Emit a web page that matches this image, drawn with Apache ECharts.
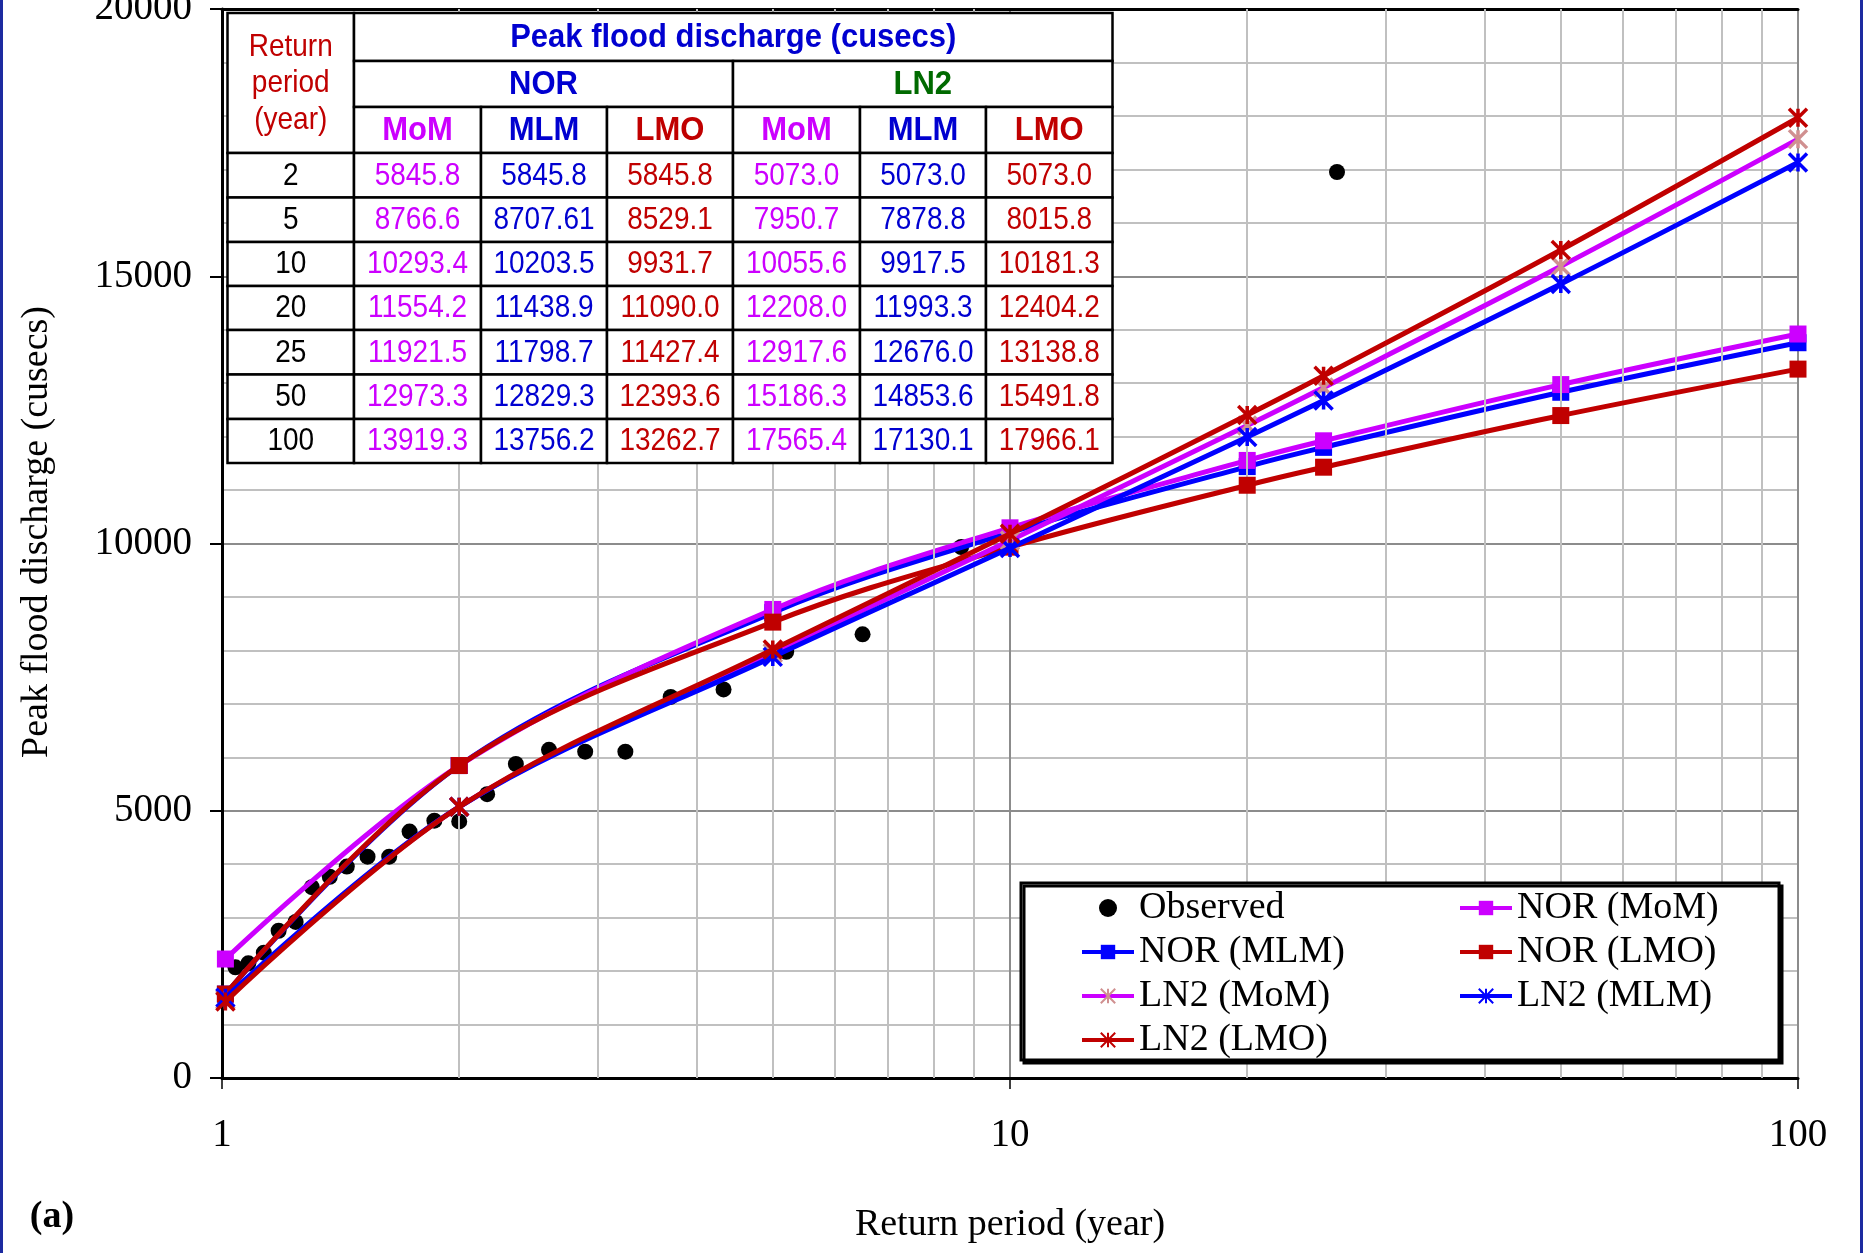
<!DOCTYPE html>
<html>
<head>
<meta charset="utf-8">
<title>Peak flood discharge vs return period</title>
<script src="https://cdn.jsdelivr.net/npm/echarts@6/dist/echarts.min.js"></script>
<style>
  html, body { margin: 0; padding: 0; background: #fff; }
  #chart { width: 1865px; height: 1253px; }
</style>
</head>
<body>
<div id="chart"></div>
<script>
// Return periods (years) of the fitted curves; the first entry is the low-tail point
const curveT = [1.01, 2, 5, 10, 20, 25, 50, 100];

// Fitted peak discharges (cusecs) for each distribution / estimation method
const norMoM = [2226, 5845.8, 8766.6, 10293.4, 11554.2, 11921.5, 12973.3, 13919.3];
const norMLM = [1570, 5845.8, 8707.61, 10203.5, 11438.9, 11798.7, 12829.3, 13756.2];
const norLMO = [1570, 5845.8, 8529.1, 9931.7, 11090.0, 11427.4, 12393.6, 13262.7];
const ln2MoM = [1464, 5073.0, 7950.7, 10055.6, 12208.0, 12917.6, 15186.3, 17565.4];
const ln2MLM = [1500, 5073.0, 7878.8, 9917.5, 11993.3, 12676.0, 14853.6, 17130.1];
const ln2LMO = [1430, 5073.0, 8015.8, 10181.3, 12404.2, 13138.8, 15491.8, 17966.1];

// Observed annual peaks at their plotting positions
const obsT = [26.0, 8.67, 6.5, 5.2, 4.33, 3.71, 3.25, 2.89, 2.6, 2.36, 2.17, 2.0,
              1.86, 1.73, 1.63, 1.53, 1.44, 1.37, 1.3, 1.24, 1.18, 1.13, 1.08, 1.04];
const obsQ = [16950, 9935, 8300, 7975, 7270, 7130, 6105, 6105, 6140, 5875, 5310, 4800,
              4815, 4610, 4140, 4140, 3955, 3765, 3570, 2920, 2755, 2345, 2145, 2070];

// Intermediate log-grid positions on the return-period axis
const minorGridT = [2, 3, 4, 5, 6, 7, 8, 9, 20, 30, 40, 50, 60, 70, 80, 90];

// Table headings
const distNames = ['NOR', 'LN2'];
const methodNames = ['MoM', 'MLM', 'LMO'];

const MAG = '#CC00FF', BLUE = '#0000FF', RED = '#C00000';
const TXT_BLUE = '#0000D0', GREEN = '#006A00';
const SERIF = '"Liberation Serif", "Times New Roman", serif';
const SANS = '"Liberation Sans", Arial, sans-serif';
const STAR = 'path://M0,0L20,20M20,0L0,20M10,0L10,20';

function fitted(name, vals, lineColor, symbol, symColor, z) {
  return {
    name: name,
    type: 'line',
    z: z,
    data: curveT.map((t, i) => [t, vals[i]]),
    smooth: 0.35,
    symbol: symbol,
    symbolSize: symbol === 'rect' ? 17 : 18,
    lineStyle: { color: lineColor, width: 5 },
    itemStyle: symbol === 'rect'
      ? { color: symColor }
      : { color: symColor, borderColor: symColor, borderWidth: 3.5 },
    emphasis: { disabled: true },
    silent: true
  };
}

function fmt(v) {
  const tenth = v * 10;
  return Math.abs(tenth - Math.round(tenth)) < 1e-6 ? v.toFixed(1) : String(v);
}

// ---- data table drawn over the upper-left of the plot ----
const colX = [227.5, 354, 481, 607, 733, 860, 986, 1112.5];
const rowY = [13, 61, 107, 153, 197.5, 242, 286, 330, 374.5, 419, 463];
const tableEls = [];
function cell(c0, c1, r0, r1) {
  tableEls.push({
    type: 'rect', z: 20,
    shape: { x: colX[c0], y: rowY[r0], width: colX[c1] - colX[c0], height: rowY[r1] - rowY[r0] },
    style: { fill: '#fff', stroke: '#000', lineWidth: 2.5 }
  });
}
function txt(str, c0, c1, r0, r1, color, bold, size, lh) {
  tableEls.push({
    type: 'text', z: 21,
    x: (colX[c0] + colX[c1]) / 2,
    y: (rowY[r0] + rowY[r1]) / 2 + 1,
    scaleY: 1.1,
    style: {
      text: str, x: 0, y: 0,
      align: 'center', verticalAlign: 'middle',
      fill: color,
      font: (bold ? 'bold ' : '') + size + 'px ' + SANS,
      lineHeight: lh || size
    }
  });
}
cell(0, 1, 0, 3);
txt('Return\nperiod\n(year)', 0, 1, 0, 3, RED, false, 28, 33.5);
cell(1, 7, 0, 1);
txt('Peak flood discharge (cusecs)', 1, 7, 0, 1, TXT_BLUE, true, 31);
cell(1, 4, 1, 2);
txt(distNames[0], 1, 4, 1, 2, TXT_BLUE, true, 31);
cell(4, 7, 1, 2);
txt(distNames[1], 4, 7, 1, 2, GREEN, true, 31);
const methodColors = [MAG, TXT_BLUE, RED];
for (let d = 0; d < 2; d++) {
  for (let m = 0; m < 3; m++) {
    const c = 1 + d * 3 + m;
    cell(c, c + 1, 2, 3);
    txt(methodNames[m], c, c + 1, 2, 3, methodColors[m], true, 31);
  }
}
const tableCols = [norMoM, norMLM, norLMO, ln2MoM, ln2MLM, ln2LMO];
const tableT = curveT.slice(1);
tableT.forEach((t, r) => {
  cell(0, 1, 3 + r, 4 + r);
  txt(String(t), 0, 1, 3 + r, 4 + r, '#000', false, 28);
  tableCols.forEach((col, k) => {
    cell(1 + k, 2 + k, 3 + r, 4 + r);
    txt(fmt(col[r + 1]), 1 + k, 2 + k, 3 + r, 4 + r, methodColors[k % 3], false, 28);
  });
});

const chart = echarts.init(document.getElementById('chart'), null, { renderer: 'canvas' });

const legendCommon = {
  z: 30, orient: 'vertical', top: 889, padding: 0, itemGap: 6,
  itemWidth: 52, itemHeight: 18, selectedMode: false,
  textStyle: { fontFamily: SERIF, fontSize: 38, color: '#000' },
  lineStyle: { width: 4 }
};

chart.setOption({
  animation: false,
  backgroundColor: '#fff',
  grid: { left: 222, right: 67, top: 9, bottom: 175, containLabel: false, outerBoundsMode: 'none' },
  xAxis: [{
    type: 'log', logBase: 10, min: 1, max: 100,
    name: 'Return period (year)', nameLocation: 'middle', nameGap: 128,
    nameTextStyle: { fontFamily: SERIF, fontSize: 38, color: '#000' },
    axisLine: { show: true, lineStyle: { color: '#000', width: 3 } },
    axisTick: { show: true, inside: false, length: 11, lineStyle: { color: '#000', width: 1.5 } },
    axisLabel: { fontFamily: SERIF, fontSize: 39, color: '#000', margin: 38,
                 formatter: v => String(Math.round(v)) },
    splitLine: { show: true, lineStyle: { color: '#8c8c8c', width: 2 } },
    minorTick: { show: false }, minorSplitLine: { show: false }
  }, {
    type: 'log', logBase: 10, min: 1, max: 100, position: 'top',
    axisLine: { show: true, lineStyle: { color: '#000', width: 3 } },
    axisTick: { show: false }, axisLabel: { show: false }, splitLine: { show: false }
  }],
  yAxis: {
    type: 'value', min: 0, max: 20000, interval: 5000,
    axisLine: { show: true, lineStyle: { color: '#000', width: 3 } },
    axisTick: { show: true, inside: false, length: 12, lineStyle: { color: '#000', width: 2 } },
    axisLabel: { fontFamily: SERIF, fontSize: 39, color: '#000', margin: 30,
                 formatter: v => String(v) },
    splitLine: { show: true, lineStyle: { color: '#8c8c8c', width: 2 } },
    minorTick: { show: false, splitNumber: 5 },
    minorSplitLine: { show: true, lineStyle: { color: '#c0c0c0', width: 2 } }
  },
  legend: [
    Object.assign({}, legendCommon, {
      left: 1080, data: ['Observed', 'NOR (MLM)', 'LN2 (MoM)', 'LN2 (LMO)']
    }),
    Object.assign({}, legendCommon, {
      left: 1458, data: ['NOR (MoM)', 'NOR (LMO)', 'LN2 (MLM)']
    })
  ],
  series: [
    {
      // carrier for the intermediate vertical grid lines
      name: 'logGrid', type: 'line', data: [], z: 1, silent: true,
      markLine: {
        silent: true, symbol: ['none', 'none'], label: { show: false },
        lineStyle: { color: '#c0c0c0', width: 2, type: 'solid' },
        emphasis: { disabled: true },
        data: minorGridT.map(t => ({ xAxis: t }))
      }
    },
    {
      name: 'Observed', type: 'scatter', z: 2, silent: true,
      data: obsT.map((t, i) => [t, obsQ[i]]),
      symbol: 'circle', symbolSize: 16,
      itemStyle: { color: '#000', opacity: 1 }
    },
    fitted('NOR (MLM)', norMLM, BLUE, 'rect', BLUE, 3),
    fitted('NOR (MoM)', norMoM, MAG, 'rect', MAG, 4),
    fitted('NOR (LMO)', norLMO, RED, 'rect', RED, 5),
    fitted('LN2 (MoM)', ln2MoM, MAG, STAR, '#D09090', 6),
    fitted('LN2 (MLM)', ln2MLM, BLUE, STAR, BLUE, 7),
    fitted('LN2 (LMO)', ln2LMO, RED, STAR, RED, 8)
  ],
  graphic: [
    // page frame
    { type: 'line', z: 40, shape: { x1: 1.5, y1: 0, x2: 1.5, y2: 1253 },
      style: { stroke: '#1c2aa0', lineWidth: 3 } },
    { type: 'line', z: 40, shape: { x1: 1861.5, y1: 0, x2: 1861.5, y2: 1253 },
      style: { stroke: '#1c2aa0', lineWidth: 3 } },
    // legend frame
    { type: 'rect', z: 15,
      shape: { x: 1021, y: 883, width: 758, height: 177 },
      style: { fill: '#fff', stroke: '#000', lineWidth: 3,
               shadowColor: '#000', shadowOffsetX: 3, shadowOffsetY: 3, shadowBlur: 0 } },
    // y-axis title
    { type: 'text', z: 40, x: 37, y: 532, rotation: Math.PI / 2,
      style: { text: 'Peak flood discharge (cusecs)', x: 0, y: 0,
               align: 'center', verticalAlign: 'middle',
               fill: '#000', font: '38px ' + SERIF } },
    // panel tag
    { type: 'text', z: 40,
      style: { text: '(a)', x: 52, y: 1217, align: 'center', verticalAlign: 'middle',
               fill: '#000', font: 'bold 38px ' + SERIF } }
  ].concat(tableEls)
});
</script>
</body>
</html>
